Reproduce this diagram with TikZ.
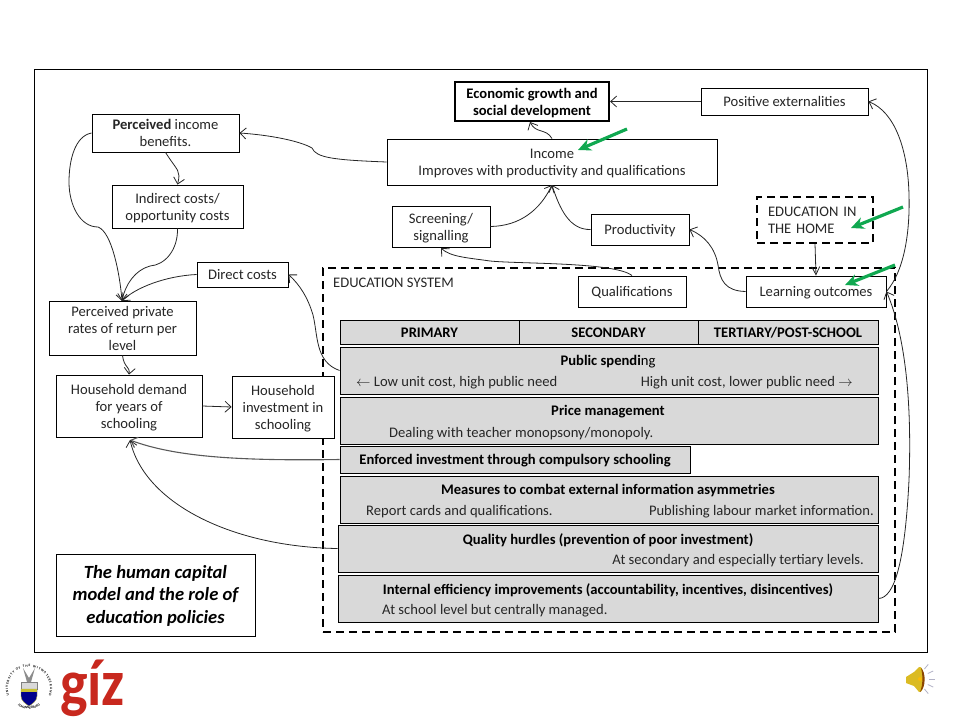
\documentclass[tikz,border=0pt]{standalone}
\usepackage{fontspec}
\setmainfont{Carlito}
\usetikzlibrary{arrows.meta,decorations.text}
\definecolor{panelgrey}{HTML}{D9D9D9}
\definecolor{arrowgreen}{HTML}{10A850}
\definecolor{gizred}{HTML}{C8281E}
\definecolor{bodytext}{HTML}{262626}
\tikzset{
    box/.style={draw, fill=white, line width=0.9pt, align=center, inner sep=0pt, text=bodytext,
        font=\fontsize{14.6}{17}\selectfont, text height=13pt, text depth=3pt},
    twolines/.style={text height=30pt},
    threelines/.style={text height=47pt},
    panel/.style={draw, fill=panelgrey, line width=0.9pt, inner sep=0pt},
    heading/.style={font=\fontsize{14.6}{16}\selectfont\bfseries, inner sep=0pt, text=black},
    rowlabel/.style={text height=13pt, text depth=3pt},
    remark/.style={font=\fontsize{14.6}{16}\selectfont, inner sep=0pt, text=bodytext},
    link/.style={draw=black!85, line width=0.8pt, -{Straight Barb[length=6pt,width=11pt]}},
    pointer/.style={draw=arrowgreen, line width=3.2pt, -{Stealth[length=13pt,width=12pt]}},
    dashframe/.style={draw, line width=1.6pt, dash pattern=on 8pt off 5pt}
}
\begin{document}
\begin{tikzpicture}[x=1pt,y=-1pt]
    \useasboundingbox (0,0) rectangle (960,720);
    \draw[line width=0.9pt] (34,69) rectangle (927,652);
    \node[dashframe, minimum width=572pt, minimum height=364pt] (system) at (609,450) {};
    \node[anchor=west, remark] (systemlabel) at (333,283) {EDUCATION SYSTEM};

    \node[box, twolines, minimum width=154pt, minimum height=39pt, line width=2.2pt, font=\fontsize{14.6}{17}\selectfont\bfseries, text=black] (growth) at (532,101.5) {Economic growth and\\social development};
    \node[box, minimum width=167pt, minimum height=27pt] (externalities) at (784.5,101.5) {Positive externalities};
    \node[box, twolines, minimum width=147pt, minimum height=38pt] (benefits) at (165.5,133) {\textbf{Perceived} income\\benefits.};
    \node[box, twolines, minimum width=330pt, minimum height=46pt] (income) at (552,162) {Income\\Improves with productivity and qualifications};
    \node[box, twolines, minimum width=131pt, minimum height=43pt] (indirect) at (177.5,206.5) {Indirect costs/\\opportunity costs};
    \node[box, twolines, minimum width=98pt, minimum height=41pt] (screening) at (441,226.5) {Screening/\\signalling};
    \node[box, minimum width=98pt, minimum height=31pt] (productivity) at (640,229.5) {Productivity};
    \node[box, dashframe, fill=none, text height=, text depth=, minimum width=116pt, minimum height=46pt, align=left, text width=94pt, text=bodytext] (home) at (815,220) {EDUCATION IN\\THE HOME};
    \node[box, minimum width=91pt, minimum height=25pt] (direct) at (242.5,274.5) {Direct costs};
    \node[box, minimum width=108pt, minimum height=31pt] (qualifications) at (632,291.5) {Qualifications};
    \node[box, minimum width=140pt, minimum height=31pt] (outcomes) at (816,291.5) {Learning outcomes};
    \node[box, threelines, minimum width=147pt, minimum height=54pt] (private) at (122.5,328) {Perceived private\\rates of return per\\level};
    \node[box, threelines, minimum width=146pt, minimum height=62pt] (demand) at (129,406) {Household demand\\for years of\\schooling};
    \node[box, threelines, minimum width=102pt, minimum height=62pt] (investment) at (283,407) {Household\\investment in\\schooling};

    \node[panel, heading, rowlabel, minimum width=179pt, minimum height=24pt] (primary) at (429.5,332) {PRIMARY};
    \node[panel, heading, rowlabel, minimum width=179pt, minimum height=24pt] (secondary) at (608.5,332) {SECONDARY};
    \node[panel, heading, rowlabel, minimum width=180pt, minimum height=24pt] (tertiary) at (788,332) {TERTIARY/POST-SCHOOL};

    \node[panel, minimum width=538pt, minimum height=47pt] (public) at (609,370.5) {};
    \node[heading] (publictitle) at (608,362) {Public spendi{\mdseries ng}};
    \node[remark, anchor=west] (publicleft) at (356,383) {$\leftarrow$ Low unit cost, high public need};
    \node[remark, anchor=east] (publicright) at (853,383) {High unit cost, lower public need $\rightarrow$};

    \node[panel, minimum width=538pt, minimum height=47pt] (price) at (609,420.5) {};
    \node[heading] (pricetitle) at (608,412) {Price management};
    \node[remark, anchor=west] (pricetext) at (389,434) {Dealing with teacher monopsony/monopoly.};

    \node[panel, heading, rowlabel, minimum width=350pt, minimum height=27pt] (enforced) at (515,459.5) {Enforced investment through compulsory schooling};

    \node[panel, minimum width=538pt, minimum height=47pt] (measures) at (609,499.5) {};
    \node[heading] (measurestitle) at (608,491) {Measures to combat external information asymmetries};
    \node[remark, anchor=west] (measuresleft) at (366,512) {Report cards and qualifications.};
    \node[remark, anchor=east] (measuresright) at (874,512) {Publishing labour market information.};

    \node[panel, minimum width=540pt, minimum height=47pt] (quality) at (608,548.5) {};
    \node[heading] (qualitytitle) at (608,540) {Quality hurdles (prevention of poor investment)};
    \node[remark, anchor=east] (qualitytext) at (864,561) {At secondary and especially tertiary levels.};

    \node[panel, minimum width=540pt, minimum height=47pt] (internal) at (608,598.5) {};
    \node[heading] (internaltitle) at (608,590) {Internal efficiency improvements (accountability, incentives, disincentives)};
    \node[remark, anchor=west] (internaltext) at (382,611) {At school level but centrally managed.};

    \node[box, text height=60pt, text depth=4pt, minimum width=199pt, minimum height=82pt, text=black, font=\fontsize{18.6}{22.5}\selectfont\bfseries\itshape] (caption) at (155.5,595) {The human capital\\model and the role of\\education policies};

    \draw[link] (externalities.west) -- (growth.east);
    \draw[link] (income.north) .. controls (546,128) and (536,134) .. (530,122);
    \draw[link] (income.west) .. controls (335,160) and (316,158) .. (312,148) .. controls (300,141) and (270,135) .. (benefits.east);
    \draw[link] (benefits.south) .. controls (178,172) and (181,170) .. (indirect.north);
    \draw[link] (benefits.west) .. controls (75,136) and (69,160) .. (69,182) .. controls (69,205) and (80,227) .. (98,227) .. controls (112,232) and (120,275) .. (122,301);
    \draw[link] (indirect.south) .. controls (178,250) and (165,265) .. (150,266) .. controls (135,270) and (125,285) .. (122,301);
    \draw[link] (direct.west) .. controls (165,276) and (135,288) .. (122,301);
    \draw[link] (public.west) .. controls (315,362) and (318,335) .. (313,315) .. controls (308,298) and (300,285) .. (direct.east);
    \draw[link] (private.south) .. controls (124,368) and (130,366) .. (demand.north);
    \draw[link] (demand.east) -- (investment.west);
    \draw[link, draw=black!65, line width=1.1pt] (enforced.west) .. controls (240,461) and (175,457) .. (130,440);
    \draw[link] (quality.west) .. controls (235,547) and (145,505) .. (130,440);
    \draw[link] (qualifications.north) .. controls (615,262) and (520,264) .. (490,261) .. controls (470,258) and (450,257) .. (441,248);
    \draw[link] (screening.east) .. controls (520,226) and (540,210) .. (552,185);
    \draw[link] (productivity.west) .. controls (570,230) and (560,210) .. (552,185);
    \draw[link] (outcomes.west) .. controls (725,291) and (720,280) .. (718,265) .. controls (715,248) and (705,236) .. (productivity.east);
    \draw[link, -{Straight Barb[length=8pt,width=8pt]}] (home.south) -- (outcomes.north);
    \draw[link] (internal.east) .. controls (895,598) and (905,560) .. (909,480) .. controls (912,400) and (905,335) .. (outcomes.east);
    \draw[link] (outcomes.east) .. controls (905,270) and (910,230) .. (909,195) .. controls (908,150) and (895,112) .. (externalities.east);

    \draw[pointer] (627,129) -- (578,150);
    \draw[pointer] (903,207) -- (851,228);
    \draw[pointer] (895,265) -- (845,285);

    % logos
    \begin{scope}[shift={(29,688)}, y=1pt]
        \path[postaction={decorate, decoration={text along path, text align=fit to path,
            text={|\fontsize{3.4}{4}\selectfont\bfseries|UNIVERSITY OF THE WITWATERSRAND}}}]
            (200:21) arc[start angle=200, end angle=-20, radius=21];
        \path[postaction={decorate, decoration={text along path, text align=center,
            text={|\fontsize{3.4}{4}\selectfont\bfseries|JOHANNESBURG}}}]
            (215:21) arc[start angle=215, end angle=325, radius=21];
    \end{scope}
    \fill[black!45] (27,682) -- (23,668) -- (29,678) -- (35,668) -- (31,682) -- cycle;
    \fill[black!15, draw=black!50] (21,682) rectangle (37,689);
    \fill[blue!55!black, draw=yellow!60!black] (21,689) -- (37,689) -- (37,696) .. controls (37,701) and (32,704) .. (29,706) .. controls (26,704) and (21,701) .. (21,696) -- cycle;
    \fill[yellow!75!black] (21,689) rectangle (37,692);
    \node[anchor=base west, text=gizred, inner sep=0pt, xscale=0.88, font=\fontsize{66}{66}\selectfont\bfseries] (giz) at (60,705) {gíz};

    \fill[yellow!70!orange!85!black] (906,677) -- (914,672) -- (919,667) .. controls (925,664) and (926,694) .. (919,692) -- (914,686) -- (906,683) -- cycle;
    \fill[orange!55!black] (921,668) .. controls (926,672) and (926,688) .. (920,692) .. controls (923,685) and (923,675) .. (921,668) -- cycle;
    \fill[yellow!50!orange] (920,679) circle[radius=2pt];
    \foreach \ang in {-50,-25,0,25,50} {
        \draw[blue!25!black!30, line width=0.8pt] (916,679) ++(\ang:13) -- ++(\ang:6);
    }
\end{tikzpicture}
\end{document}
